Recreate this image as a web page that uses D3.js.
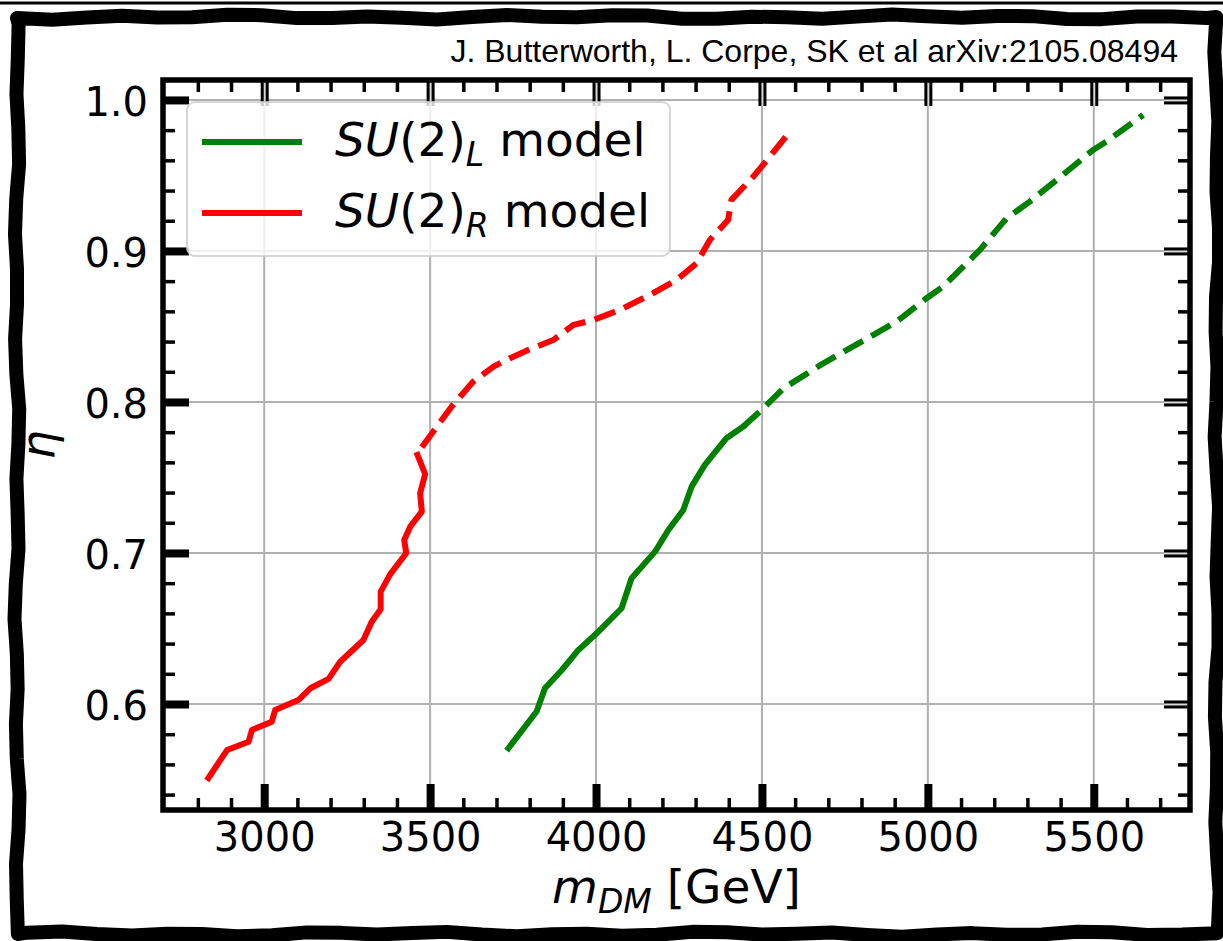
<!DOCTYPE html>
<html>
<head>
<meta charset="utf-8">
<script src="https://cdn.jsdelivr.net/npm/d3@7"></script>
<style>
  html, body { margin: 0; padding: 0; background: #fff; }
  svg { display: block; }
</style>
</head>
<body>
<svg id="chart" width="1223" height="941"></svg>
<script>
// data: [m_DM in GeV, eta]
const suRSolid = [
  [2832, 0.551], [2888, 0.5695], [2953, 0.575], [2963, 0.5828], [3023, 0.5883],
  [3033, 0.596], [3103, 0.6026], [3139, 0.6104], [3194, 0.6166], [3229, 0.628],
  [3299, 0.6424], [3324, 0.6545], [3351, 0.6627], [3351, 0.6744], [3380, 0.6860],
  [3428, 0.6998], [3422, 0.7086], [3440, 0.7174], [3475, 0.7274], [3470, 0.7395],
  [3485, 0.7523], [3462, 0.7649]
];
const suRDashed = [
  [3475, 0.770], [3520, 0.7836], [3565, 0.797], [3630, 0.8135], [3691, 0.8234],
  [3741, 0.829], [3791, 0.834], [3871, 0.841], [3932, 0.851], [3992, 0.8543],
  [4072, 0.861], [4172, 0.872], [4243, 0.8808], [4303, 0.8918], [4343, 0.9073],
  [4398, 0.9205], [4408, 0.9338], [4474, 0.9492], [4524, 0.9625], [4584, 0.979]
];
const suLSolid = [
  [3736, 0.5707], [3821, 0.595], [3846, 0.6104], [3897, 0.6225], [3947, 0.6358],
  [4002, 0.6468], [4077, 0.6634], [4107, 0.6833], [4178, 0.7009], [4218, 0.7152],
  [4263, 0.7285], [4288, 0.7439], [4328, 0.7583], [4393, 0.776], [4443, 0.7836]
];
const suLDashed = [
  [4443, 0.7836], [4499, 0.7947], [4565, 0.8091], [4685, 0.8256], [4836, 0.8444],
  [4906, 0.8532], [4996, 0.8687], [5046, 0.8764], [5157, 0.9007], [5237, 0.9216],
  [5307, 0.9327], [5388, 0.947], [5498, 0.9669], [5538, 0.9724], [5649, 0.990]
];
const xMajor = [3000, 3500, 4000, 4500, 5000, 5500];
const xMinor = [2800, 2900, 3100, 3200, 3300, 3400, 3600, 3700, 3800, 3900,
  4100, 4200, 4300, 4400, 4600, 4700, 4800, 4900, 5100, 5200, 5300, 5400, 5600, 5700];
const yMajor = [0.6, 0.7, 0.8, 0.9, 1.0];
const yMinor = [0.54, 0.56, 0.58, 0.62, 0.64, 0.66, 0.68, 0.72, 0.74, 0.76, 0.78,
  0.82, 0.84, 0.86, 0.88, 0.92, 0.94, 0.96, 0.98];
const legendItems = [
  { sub: 'L', color: 'green' },
  { sub: 'R', color: 'red' }
];
const credit = 'J. Butterworth, L. Corpe, SK et al arXiv:2105.08494';

const W = 1223, H = 941;
const plot = { left: 163, right: 1190, top: 80, bottom: 810 };

const svg = d3.select('#chart');

// hand-drawn looking frame around the whole figure
function wobble(i) {
  return 1.6 * Math.sin(i * 1.7) + 1.1 * Math.sin(i * 0.63 + 1);
}
function framePath(x0, y0, x1, y1) {
  const pts = [];
  const step = 35;
  let k = 0;
  for (let x = x0; x < x1; x += step) pts.push([x, y0 + wobble(k++)]);
  for (let y = y0; y < y1; y += step) pts.push([x1 + wobble(k++), y]);
  for (let x = x1; x > x0; x -= step) pts.push([x, y1 + wobble(k++)]);
  for (let y = y1; y > y0; y -= step) pts.push([x0 + wobble(k++), y]);
  return d3.line()(pts) + 'Z';
}
svg.append('line')
  .attr('x1', 0).attr('x2', W).attr('y1', 3).attr('y2', 3)
  .attr('stroke', '#000').attr('stroke-width', 3);
svg.append('path')
  .attr('d', framePath(17, 17, 1217, 934))
  .attr('fill', 'none')
  .attr('stroke', '#000')
  .attr('stroke-width', 14)
  .attr('stroke-linejoin', 'round');

const x = d3.scaleLinear().domain([2695, 5790]).range([plot.left, plot.right]);
const y = d3.scaleLinear().domain([0.5298, 1.0132]).range([plot.bottom, plot.top]);

// grid
const grid = svg.append('g').attr('stroke', '#b0b0b0').attr('stroke-width', 2);
grid.selectAll('.gx').data(xMajor).enter().append('line')
  .attr('x1', d => x(d)).attr('x2', d => x(d))
  .attr('y1', plot.top).attr('y2', plot.bottom);
grid.selectAll('.gy').data(yMajor).enter().append('line')
  .attr('y1', d => y(d)).attr('y2', d => y(d))
  .attr('x1', plot.left).attr('x2', plot.right);

// curves
const line = d3.line().x(d => x(d[0])).y(d => y(d[1]));
function drawCurve(data, color, dashed) {
  svg.append('path')
    .datum(data)
    .attr('d', line)
    .attr('fill', 'none')
    .attr('stroke', color)
    .attr('stroke-width', 6)
    .attr('stroke-linejoin', 'round')
    .attr('stroke-linecap', dashed ? 'butt' : 'square')
    .attr('stroke-dasharray', dashed ? '22,9.6' : null);
}
drawCurve(suRSolid, 'red', false);
drawCurve(suRDashed, 'red', true);
drawCurve(suLSolid, 'green', false);
drawCurve(suLDashed, 'green', true);

// axes and ticks
const tickFont = 'DejaVu Sans, sans-serif';
function styleAxis(g, width) {
  g.select('.domain').remove();
  g.selectAll('.tick line').attr('stroke', '#000').attr('stroke-width', width);
  g.selectAll('.tick text')
    .attr('fill', '#000')
    .attr('font-family', tickFont)
    .attr('font-size', 40);
}

const bottomMajor = svg.append('g').attr('transform', `translate(0,${plot.bottom})`)
  .call(d3.axisBottom(x).tickValues(xMajor).tickSize(-26).tickPadding(13).tickFormat(d3.format('d')));
styleAxis(bottomMajor, 8);
const bottomMinor = svg.append('g').attr('transform', `translate(0,${plot.bottom})`)
  .call(d3.axisBottom(x).tickValues(xMinor).tickSize(-12).tickFormat(''));
styleAxis(bottomMinor, 3.5);

const leftMajor = svg.append('g').attr('transform', `translate(${plot.left},0)`)
  .call(d3.axisLeft(y).tickValues(yMajor).tickSize(-26).tickPadding(15).tickFormat(d3.format('.1f')));
styleAxis(leftMajor, 8);
leftMajor.selectAll('.tick text').attr('dy', '0.38em');
const leftMinor = svg.append('g').attr('transform', `translate(${plot.left},0)`)
  .call(d3.axisLeft(y).tickValues(yMinor).tickSize(-12).tickFormat(''));
styleAxis(leftMinor, 3.5);

const topMajor = svg.append('g').attr('transform', `translate(0,${plot.top})`)
  .call(d3.axisTop(x).tickValues(xMajor).tickSize(-26).tickFormat(''));
styleAxis(topMajor, 8);
const topSplit = svg.append('g').attr('transform', `translate(0,${plot.top})`)
  .call(d3.axisTop(x).tickValues(xMajor).tickSize(-26).tickFormat(''));
styleAxis(topSplit, 2);
topSplit.selectAll('.tick line').attr('stroke', '#d8d8d8');
const topMinor = svg.append('g').attr('transform', `translate(0,${plot.top})`)
  .call(d3.axisTop(x).tickValues(xMinor).tickSize(-12).tickFormat(''));
styleAxis(topMinor, 3.5);

const rightMajor = svg.append('g').attr('transform', `translate(${plot.right},0)`)
  .call(d3.axisRight(y).tickValues(yMajor).tickSize(-26).tickFormat(''));
styleAxis(rightMajor, 8);
const rightSplit = svg.append('g').attr('transform', `translate(${plot.right},0)`)
  .call(d3.axisRight(y).tickValues(yMajor).tickSize(-26).tickFormat(''));
styleAxis(rightSplit, 2);
rightSplit.selectAll('.tick line').attr('stroke', '#d8d8d8');
const rightMinor = svg.append('g').attr('transform', `translate(${plot.right},0)`)
  .call(d3.axisRight(y).tickValues(yMinor).tickSize(-12).tickFormat(''));
styleAxis(rightMinor, 3.5);

// spines
svg.append('rect')
  .attr('x', plot.left).attr('y', plot.top)
  .attr('width', plot.right - plot.left).attr('height', plot.bottom - plot.top)
  .attr('fill', 'none').attr('stroke', '#000').attr('stroke-width', 5.5);

// axis labels
const xLabel = svg.append('text')
  .attr('x', (plot.left + plot.right) / 2).attr('y', 903)
  .attr('text-anchor', 'middle')
  .attr('font-family', tickFont).attr('font-size', 47).attr('fill', '#000');
xLabel.append('tspan').attr('font-style', 'italic').text('m');
xLabel.append('tspan').attr('font-style', 'italic').attr('font-size', 33).attr('dy', 10).text('DM');
xLabel.append('tspan').attr('dy', -10).text(' [GeV]');

svg.append('text')
  .attr('transform', 'translate(54,445) rotate(-90)')
  .attr('text-anchor', 'middle')
  .attr('font-family', tickFont).attr('font-size', 46).attr('font-style', 'italic')
  .attr('fill', '#000')
  .text('η');

// credit line
svg.append('text')
  .attr('x', 1178).attr('y', 62)
  .attr('text-anchor', 'end')
  .attr('font-family', 'Liberation Sans, Arial, sans-serif')
  .attr('font-size', 32).attr('fill', '#000')
  .text(credit);

// legend
const legend = svg.append('g');
legend.append('rect')
  .attr('x', 187).attr('y', 102).attr('width', 483).attr('height', 154)
  .attr('rx', 8)
  .attr('fill', '#fff').attr('fill-opacity', 0.8)
  .attr('stroke', '#ccc').attr('stroke-opacity', 0.8).attr('stroke-width', 2);
legendItems.forEach((item, i) => {
  const ly = 142 + i * 71;
  legend.append('line')
    .attr('x1', 202).attr('x2', 302).attr('y1', ly).attr('y2', ly)
    .attr('stroke', item.color).attr('stroke-width', 6);
  const t = legend.append('text')
    .attr('x', 335).attr('y', ly + 14)
    .attr('font-family', tickFont).attr('font-size', 47).attr('fill', '#000');
  t.append('tspan').attr('font-style', 'italic').text('SU');
  t.append('tspan').text('(2)');
  t.append('tspan').attr('font-style', 'italic').attr('font-size', 33).attr('dy', 10).text(item.sub);
  t.append('tspan').attr('dy', -10).text(' model');
});
</script>
</body>
</html>
